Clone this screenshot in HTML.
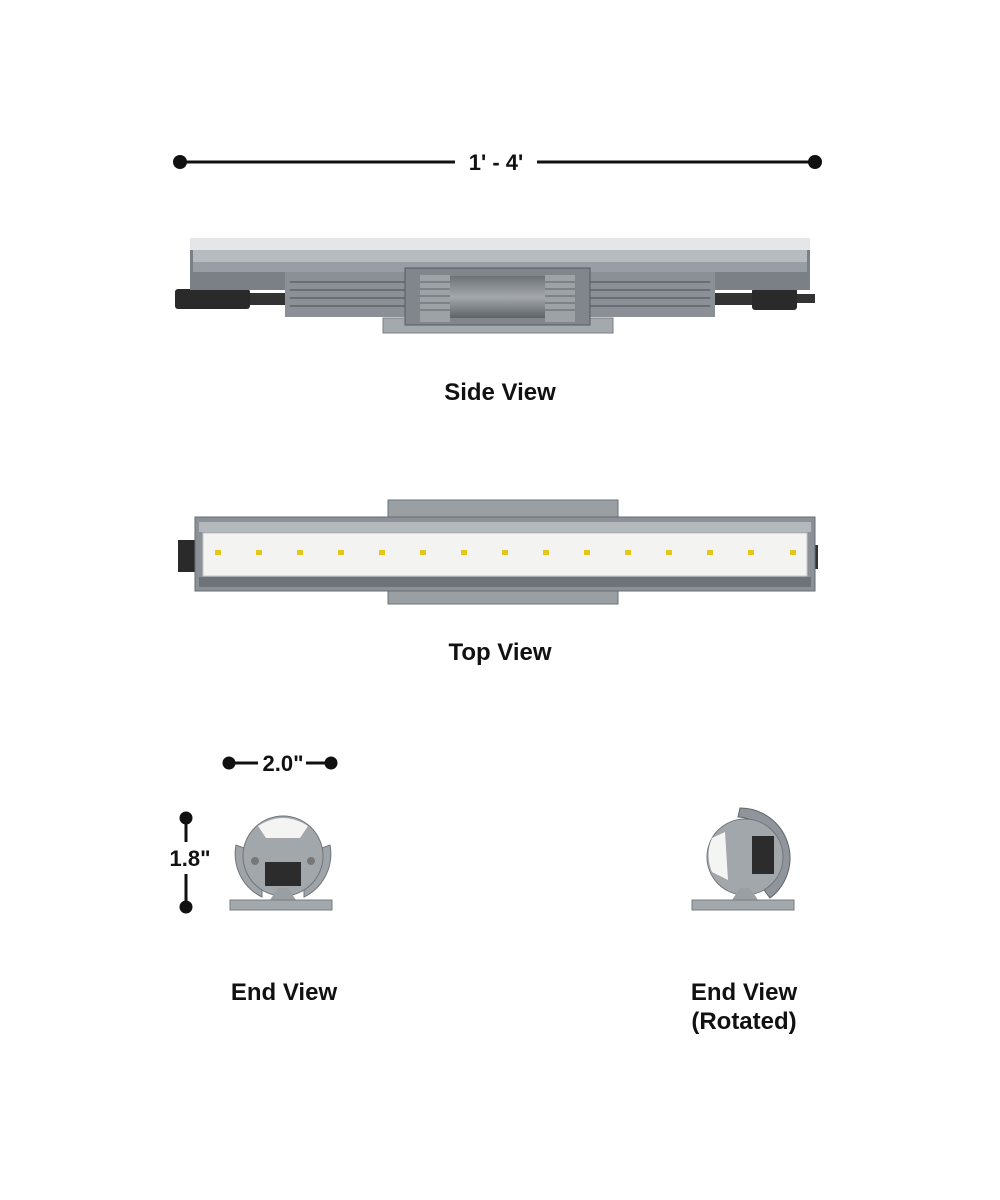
<!DOCTYPE html>
<html><head><meta charset="utf-8"><style>
body{margin:0;background:#fff}
svg{display:block}
text{font-family:"Liberation Sans",sans-serif;font-weight:bold;fill:#111}
</style></head><body>
<svg width="1000" height="1200" viewBox="0 0 1000 1200" xmlns="http://www.w3.org/2000/svg">
<defs>
<linearGradient id="cyl" x1="0" y1="0" x2="0" y2="1"><stop offset="0" stop-color="#6d7277"/><stop offset="0.5" stop-color="#a3a8ad"/><stop offset="1" stop-color="#5e6368"/></linearGradient>
</defs>
<line x1="180" y1="162" x2="455" y2="162" stroke="#111" stroke-width="3"/>
<line x1="537" y1="162" x2="815" y2="162" stroke="#111" stroke-width="3"/>
<circle cx="180" cy="162" r="7" fill="#111"/><circle cx="815" cy="162" r="7" fill="#111"/>
<text x="496" y="170" font-size="22" text-anchor="middle">1' - 4'</text>

<rect x="175" y="289" width="75" height="20" rx="3" fill="#2a2a2a"/>
<rect x="250" y="293" width="40" height="12" fill="#333"/>
<rect x="710" y="293" width="45" height="12" fill="#333"/>
<rect x="752" y="288" width="45" height="22" rx="3" fill="#2a2a2a"/>
<rect x="797" y="294" width="18" height="9" fill="#333"/>
<rect x="190" y="238" width="620" height="52" fill="#7a8086"/>
<rect x="190" y="238" width="620" height="12" fill="#e4e6e8"/>
<rect x="193" y="250" width="614" height="12" fill="#b6bbc0"/>
<rect x="193" y="262" width="614" height="10" fill="#989ea4"/>
<rect x="285" y="272" width="430" height="45" fill="#8a9096"/>
<g stroke="#5c6268" stroke-width="1.5">
<line x1="290" y1="282" x2="710" y2="282"/><line x1="290" y1="290" x2="710" y2="290"/><line x1="290" y1="298" x2="710" y2="298"/><line x1="290" y1="306" x2="710" y2="306"/>
</g>
<rect x="383" y="318" width="230" height="15" fill="#a4a9ae" stroke="#7b8086"/>
<rect x="405" y="268" width="185" height="57" fill="#80868c" stroke="#555b61"/>
<rect x="420" y="275" width="30" height="47" fill="#9da2a7"/>
<rect x="545" y="275" width="30" height="47" fill="#9da2a7"/>
<g stroke="#5c6268" stroke-width="1">
<line x1="420" y1="282" x2="450" y2="282"/><line x1="420" y1="289" x2="450" y2="289"/><line x1="420" y1="296" x2="450" y2="296"/><line x1="420" y1="303" x2="450" y2="303"/><line x1="420" y1="310" x2="450" y2="310"/>
<line x1="545" y1="282" x2="575" y2="282"/><line x1="545" y1="289" x2="575" y2="289"/><line x1="545" y1="296" x2="575" y2="296"/><line x1="545" y1="303" x2="575" y2="303"/><line x1="545" y1="310" x2="575" y2="310"/>
</g>
<rect x="450" y="276" width="95" height="42" fill="url(#cyl)"/>
<text x="500" y="400" font-size="24" text-anchor="middle">Side View</text>

<rect x="388" y="500" width="230" height="20" fill="#9a9fa4" stroke="#6a7076"/>
<rect x="388" y="586" width="230" height="18" fill="#9a9fa4" stroke="#6a7076"/>
<rect x="178" y="540" width="20" height="32" fill="#2a2a2a"/>
<rect x="811" y="545" width="7" height="24" fill="#333"/>
<rect x="195" y="517" width="620" height="74" fill="#8b9197" stroke="#666c72"/>
<rect x="199" y="522" width="612" height="10" fill="#b4b9be"/>
<rect x="203" y="533" width="604" height="43" fill="#f3f3f2" stroke="#c5c8cb"/>
<g fill="#e6c619">
<rect x="215" y="550" width="6" height="5"/><rect x="256" y="550" width="6" height="5"/><rect x="297" y="550" width="6" height="5"/><rect x="338" y="550" width="6" height="5"/><rect x="379" y="550" width="6" height="5"/><rect x="420" y="550" width="6" height="5"/><rect x="461" y="550" width="6" height="5"/><rect x="502" y="550" width="6" height="5"/><rect x="543" y="550" width="6" height="5"/><rect x="584" y="550" width="6" height="5"/><rect x="625" y="550" width="6" height="5"/><rect x="666" y="550" width="6" height="5"/><rect x="707" y="550" width="6" height="5"/><rect x="748" y="550" width="6" height="5"/><rect x="790" y="550" width="6" height="5"/>
</g>
<rect x="199" y="577" width="612" height="10" fill="#6d7379"/>
<text x="500" y="660" font-size="24" text-anchor="middle">Top View</text>

<line x1="229" y1="763" x2="258" y2="763" stroke="#111" stroke-width="3"/>
<line x1="306" y1="763" x2="331" y2="763" stroke="#111" stroke-width="3"/>
<circle cx="229" cy="763" r="6.5" fill="#111"/><circle cx="331" cy="763" r="6.5" fill="#111"/>
<text x="283" y="771" font-size="22" text-anchor="middle">2.0"</text>
<line x1="186" y1="818" x2="186" y2="842" stroke="#111" stroke-width="3"/>
<line x1="186" y1="874" x2="186" y2="907" stroke="#111" stroke-width="3"/>
<circle cx="186" cy="818" r="6.5" fill="#111"/><circle cx="186" cy="907" r="6.5" fill="#111"/>
<text x="190" y="866" font-size="22" text-anchor="middle">1.8"</text>

<path d="M236 845 A48 48 0 0 0 262 897 L262 888 A40 40 0 0 1 244 848 Z" fill="#9fa4a9" stroke="#70757a"/>
<path d="M330 845 A48 48 0 0 1 304 897 L304 888 A40 40 0 0 0 322 848 Z" fill="#9fa4a9" stroke="#70757a"/>
<circle cx="283" cy="856" r="40" fill="#a2a7ac" stroke="#6f757a"/>
<path d="M258 826 Q283 810 308 826 L300 838 L266 838 Z" fill="#f4f4f3"/>
<rect x="265" y="862" width="36" height="24" fill="#2c2c2c"/>
<circle cx="255" cy="861" r="4" fill="#777"/><circle cx="311" cy="861" r="4" fill="#777"/>
<path d="M270 900 L278 888 L288 888 L296 900 Z" fill="#9a9fa4"/>
<rect x="230" y="900" width="102" height="10" fill="#a3a8ad" stroke="#777c81"/>
<text x="284" y="1000" font-size="24" text-anchor="middle">End View</text>

<path d="M740 808 A50 50 0 0 1 770 898 L764 890 A42 42 0 0 0 738 817 Z" fill="#8f959a" stroke="#5f656a"/>
<circle cx="745" cy="857" r="38" fill="#a2a7ac" stroke="#6f757a"/>
<path d="M712 838 L725 832 L728 880 L712 872 Q705 855 712 838 Z" fill="#f4f4f3"/>
<rect x="752" y="836" width="22" height="38" fill="#2c2c2c"/>
<path d="M732 900 L740 888 L750 888 L758 900 Z" fill="#9a9fa4"/>
<rect x="692" y="900" width="102" height="10" fill="#a3a8ad" stroke="#777c81"/>
<text x="744" y="1000" font-size="24" text-anchor="middle">End View</text>
<text x="744" y="1029" font-size="24" text-anchor="middle">(Rotated)</text>
</svg>
</body></html>
